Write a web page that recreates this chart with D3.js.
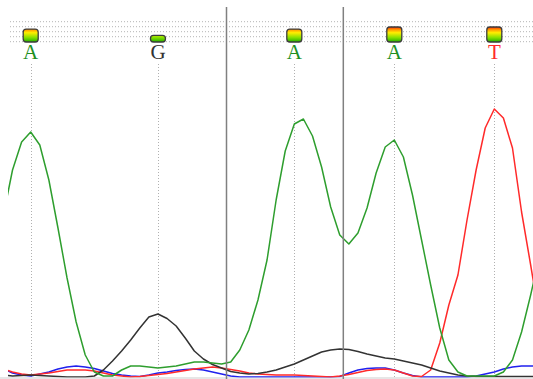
<!DOCTYPE html>
<html>
<head>
<meta charset="utf-8">
<script src="https://cdn.jsdelivr.net/npm/d3@7"></script>
<style>
  html, body { margin: 0; padding: 0; background: #fff; }
  svg { display: block; }
</style>
</head>
<body>
<svg id="chart" width="533" height="379"></svg>
<script>
// Trace samples: first sample index and per-channel signal heights
const firstSample = -3;
const traceA = [162,207,235,245,232,197,149,99,55,22,5,1,1,7,11,11,10,9,10,11,13,15,15,14,13,15,27,47,77,117,177,226,253,258,241,210,170,142,133,144,169,204,230,237,220,182,137,92,49,17,5,1,1,1,1,5,17,45,82,122];
const traceG = [2,1,1.5,2,1.5,1,0.5,0,0,0,1,7,16,26,37,49,60,63,58.5,51,39,26,18,12.5,9,5.5,4,3,3.5,5,7,10,13,17,21,25,27,28,27.5,25.5,23,21,19,18,16,14,12,9,6,4,2,1,0.5,0.5,0.5,0.5,0.5,0.5,0.5,0.5];
const traceC = [8,4,2,1,3,5,8,10,11,10,8.5,6,3.5,2,1,0.5,2,4,5,6.5,7.5,8,7,5,3,1,0,0,0,0,0,0,0,0,0,0,0,0.5,4,7,8.5,9,9,7,4,1.5,0,0,0,0,0,0,1,3,5,8,10,11,11,11];
const traceT = [8,5,3,2,3,4,5.5,7,7,7,6,4,2,1,0,0.5,1.5,2.5,3.5,5,6.5,8,9,10,9,7.5,6,4,3,2.5,2,2,2,1.5,1,0.5,0,1,2.5,4.5,6.5,7.5,8,7,4,1,0.5,7,34,72,102,157,207,249,268,259,229,165,112,57];

// Base calls: sample position, called base, quality
const basePos = [0, 14, 29, 40, 51];
const baseCall = ["A", "G", "A", "A", "T"];
const baseQual = [43, 22, 43, 50, 50];

// Section dividers in sample units
const dividers = [21.54, 34.39];

const svg = d3.select("#chart");
const W = 533, H = 379;

const x = d3.scaleLinear().domain([0, 51]).range([30.7, 494.3]);
const y = d3.scaleLinear().domain([0, 300]).range([377, 77]);
const qh = d3.scaleLinear().domain([0, 50]).range([0, 15]);

const baseColor = { A: "#1f8f1f", C: "#2020ee", G: "#333333", T: "#ff2a2a" };

const defs = svg.append("defs");
defs.append("clipPath").attr("id", "plotClip")
  .append("rect").attr("x", 8).attr("y", 0).attr("width", W - 8).attr("height", 377.5);

const grad = defs.append("linearGradient")
  .attr("id", "qualGrad")
  .attr("gradientUnits", "userSpaceOnUse")
  .attr("x1", 0).attr("x2", 0).attr("y1", 27).attr("y2", 42);
[[0, "#ff2a00"], [0.18, "#ff9a00"], [0.38, "#ffee00"], [0.7, "#88e000"], [1, "#22b000"]]
  .forEach(([o, c]) => grad.append("stop").attr("offset", o).attr("stop-color", c));

// bottom strip
svg.append("rect").attr("x", 0).attr("y", 377).attr("width", W).attr("height", 2).attr("fill", "#e6e6e6");

// dotted header rows
const rows = [21.7, 26.7, 31.7, 36.7, 41.7];
svg.append("g").selectAll("line").data(rows).join("line")
  .attr("x1", 10).attr("x2", W)
  .attr("y1", d => d).attr("y2", d => d)
  .attr("stroke", "#b4b4b4").attr("stroke-width", 1)
  .attr("stroke-dasharray", "1,2");

// dotted guides under each base
svg.append("g").selectAll("line").data(basePos).join("line")
  .attr("x1", d => Math.round(x(d)) + 0.5).attr("x2", d => Math.round(x(d)) + 0.5)
  .attr("y1", 64).attr("y2", 377)
  .attr("stroke", "#b0b0b0").attr("stroke-width", 1)
  .attr("stroke-dasharray", "1,2");

// traces
const line = d3.line()
  .x((d, i) => x(firstSample + i))
  .y(d => y(d));

const traces = svg.append("g").attr("clip-path", "url(#plotClip)");
[[traceC, baseColor.C], [traceT, baseColor.T], [traceG, baseColor.G], [traceA, "#2e9e2e"]]
  .forEach(([data, color]) => {
    traces.append("path")
      .datum(data)
      .attr("d", line)
      .attr("fill", "none")
      .attr("stroke", color)
      .attr("stroke-width", 1.5)
      .attr("stroke-linejoin", "round");
  });

// section dividers
svg.append("g").selectAll("line").data(dividers).join("line")
  .attr("x1", d => x(d)).attr("x2", d => x(d))
  .attr("y1", 7).attr("y2", H)
  .attr("stroke", "#808080").attr("stroke-width", 1.5);

// quality boxes
svg.append("g").selectAll("rect").data(basePos).join("rect")
  .attr("x", d => x(d) - 7.5)
  .attr("width", 15)
  .attr("y", (d, i) => 42 - qh(baseQual[i]))
  .attr("height", (d, i) => qh(baseQual[i]))
  .attr("rx", 3).attr("ry", 3)
  .attr("fill", "url(#qualGrad)")
  .attr("stroke", "#3c3c3c").attr("stroke-width", 1.3);

// base letters
svg.append("g").selectAll("text").data(basePos).join("text")
  .attr("x", d => x(d))
  .attr("y", 59)
  .attr("text-anchor", "middle")
  .attr("font-family", "'Liberation Serif', 'DejaVu Serif', serif")
  .attr("font-size", 21)
  .attr("fill", (d, i) => baseColor[baseCall[i]] === baseColor.A ? "#1f8f1f" : baseColor[baseCall[i]])
  .text((d, i) => baseCall[i]);
</script>
</body>
</html>
